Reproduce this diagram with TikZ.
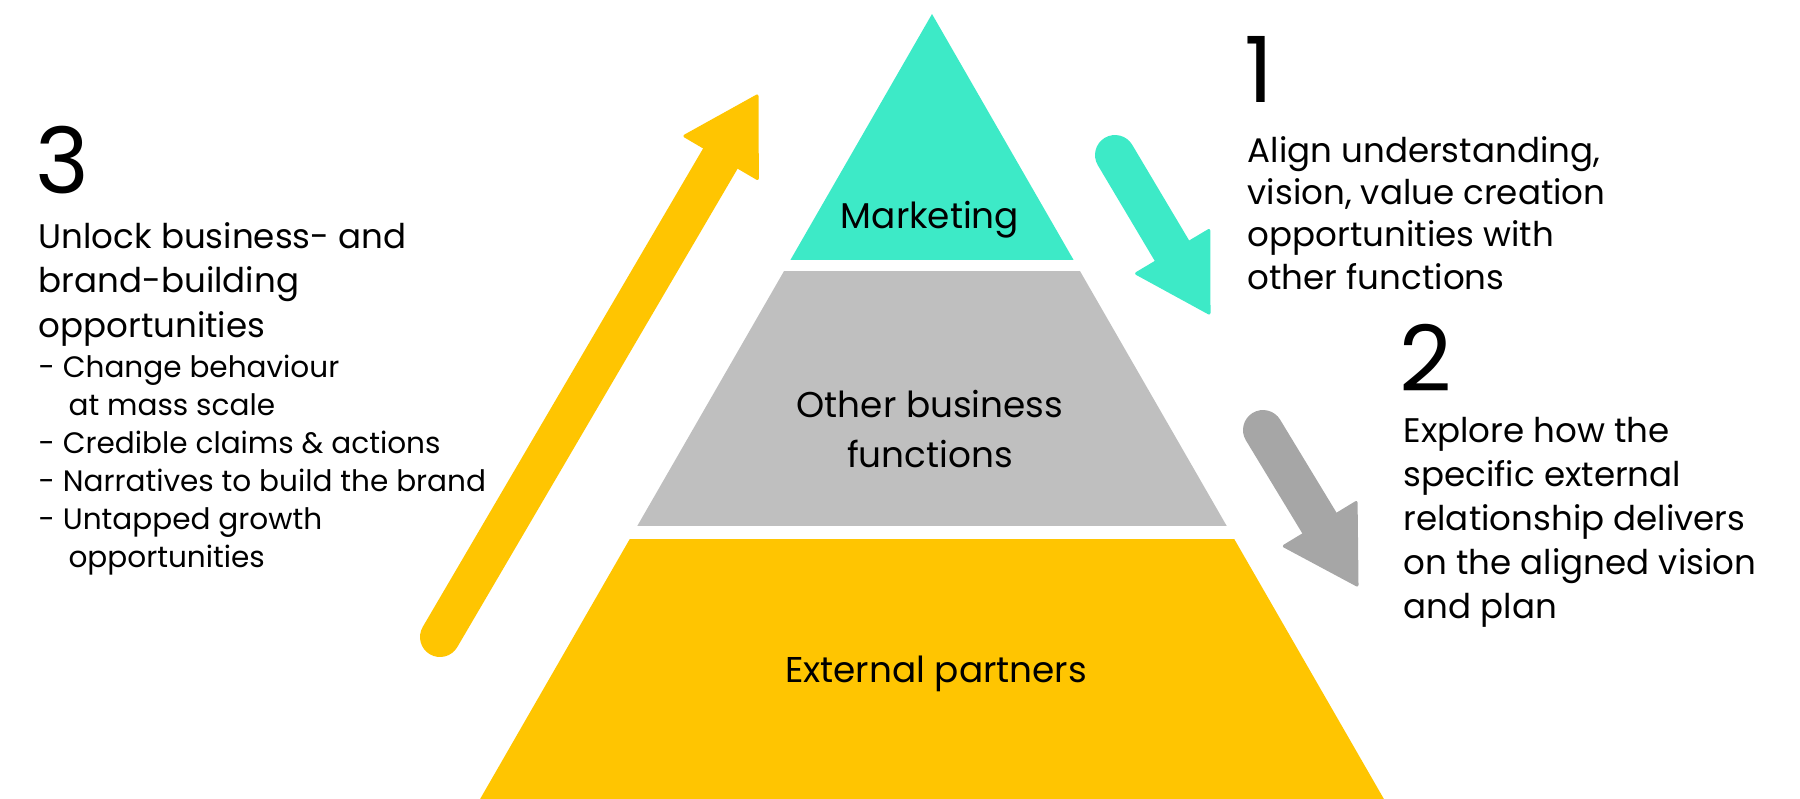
\documentclass[tikz,border=0pt]{standalone}
\usepackage{fontspec}
\setmainfont{Poppins}
\usepackage{tikz}
\usetikzlibrary{calc}

\definecolor{mint}{HTML}{3DEAC7}
\definecolor{midgrey}{HTML}{BFBFBF}
\definecolor{amber}{HTML}{FFC501}
\definecolor{darkgrey}{HTML}{A6A6A6}

% fat arrow: tail, tip, colour
\newcommand{\fatarrow}[3]{%
  \coordinate (hb) at ($(#2)!7.1mm!(#1)$);
  \draw[#3, line width=4mm, line cap=round] (#1) -- ($(#2)!6mm!(#1)$);
  \filldraw[#3, line width=0.3mm, line join=round] (#2) -- ($(hb)!4.2mm!90:(#2)$) -- ($(hb)!4.2mm!-90:(#2)$) -- cycle;
}

\begin{document}
\begin{tikzpicture}[x=0.1mm, y=-0.1mm,
  layer/.style={font=\fontsize{10.2}{14}\selectfont, align=center, anchor=base, inner sep=0pt},
  num/.style={font=\fontsize{26}{26}\selectfont, anchor=base west, inner sep=0pt},
  body/.style={font=\fontsize{9.7}{12}\selectfont, align=left, anchor=base west, inner sep=0pt}]

\useasboundingbox (0,0) rectangle (1800,798);

% pyramid
\coordinate (apex) at (932,14);
\begin{scope}
\clip (apex) -- (468,820) -- (1396,820) -- cycle;
\fill[mint] (400,0) rectangle (1500,259.5);
\fill[midgrey] (400,271) rectangle (1500,526);
\fill[amber] (400,539) rectangle (1500,820);
\end{scope}

% labels (base = last line)
\node[layer] (mkt) at (930,228) {Marketing};
\node[layer] (obf) at (930,467) {Other business\\functions};
\node[layer] (ext) at (936,682) {External partners};

% arrows
\coordinate (grow-tail) at (440,637);
\coordinate (grow-tip) at (757,96);
\coordinate (align-tail) at (1115,155);
\coordinate (align-tip) at (1209,313);
\coordinate (explore-tail) at (1263,430);
\coordinate (explore-tip) at (1357,585);

\fatarrow{grow-tail}{grow-tip}{amber}
\fatarrow{align-tail}{align-tip}{mint}
\fatarrow{explore-tail}{explore-tip}{darkgrey}

% 1
\node[num] (n1) at (1244,102) {1};
\node[body] (t1) at (1247,289) {Align understanding,\\vision, value creation\\opportunities with\\other functions};

% 2
\node[num] (n2) at (1399,391) {2};
\node[body, font=\fontsize{9.7}{12.5}\selectfont] (t2) at (1403,618) {Explore how the\\specific external\\relationship delivers\\on the aligned vision\\and plan};

% 3
\node[num] (n3) at (35,193) {3};
\node[body, font=\fontsize{9.7}{12.66}\selectfont] (t3) at (38,337) {Unlock business- and\\brand-building\\opportunities};
\node[body, font=\fontsize{8.4}{10.8}\selectfont] (b3) at (38,567) {- Change behaviour\\\hspace*{8.5pt}at mass scale\\- Credible claims \& actions\\- Narratives to build the brand\\- Untapped growth\\\hspace*{8.5pt}opportunities};

\end{tikzpicture}
\end{document}
